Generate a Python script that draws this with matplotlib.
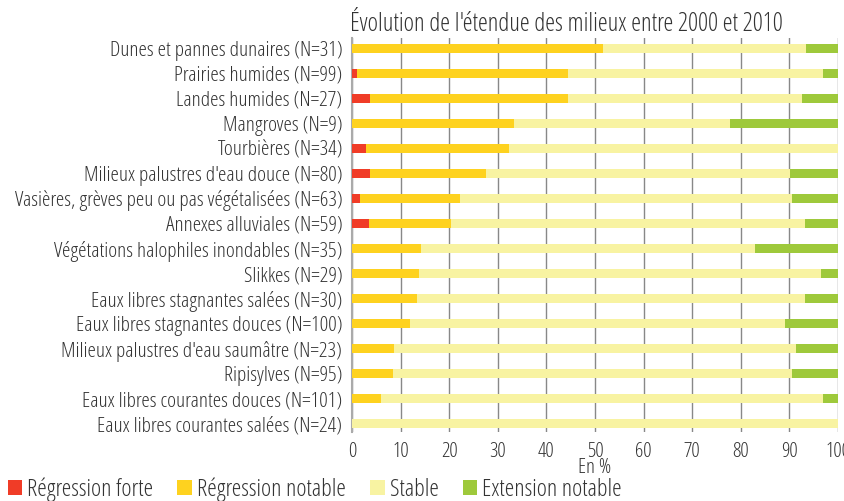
"""
Evolution de l'etendue des milieux entre 2000 et 2010 (barres empilees en %).
"""
import matplotlib
matplotlib.use("Agg")
import matplotlib.pyplot as plt
from matplotlib.patches import Patch
import numpy as np

plt.rcParams['font.family'] = ['Open Sans', 'DejaVu Sans']
plt.rcParams['font.stretch'] = 'condensed'

# Milieux, du haut vers le bas
categories = [
    "Dunes et pannes dunaires (N=31)",
    "Prairies humides (N=99)",
    "Landes humides (N=27)",
    "Mangroves (N=9)",
    "Tourbières (N=34)",
    "Milieux palustres d'eau douce (N=80)",
    "Vasières, grèves peu ou pas végétalisées (N=63)",
    "Annexes alluviales (N=59)",
    "Végétations halophiles inondables (N=35)",
    "Slikkes (N=29)",
    "Eaux libres stagnantes salées (N=30)",
    "Eaux libres stagnantes douces (N=100)",
    "Milieux palustres d'eau saumâtre (N=23)",
    "Ripisylves (N=95)",
    "Eaux libres courantes douces (N=101)",
    "Eaux libres courantes salées (N=24)",
]

# parts en %
regression_forte = [0, 1.0, 3.7, 0, 2.9, 3.8, 1.6, 3.4, 0, 0, 0, 0, 0, 0, 0, 0]
regression_notable = [51.6, 43.4, 40.7, 33.3, 29.4, 23.8, 20.6, 16.9, 14.3, 13.8, 13.3, 12.0, 8.7, 8.4, 5.9, 0]
stable = [41.9, 52.5, 48.1, 44.4, 67.7, 62.5, 68.3, 72.9, 68.6, 82.8, 80.0, 77.0, 82.6, 82.1, 91.1, 100]
extension_notable = [6.5, 3.1, 7.5, 22.3, 0, 9.9, 9.5, 6.8, 17.1, 3.4, 6.7, 11.0, 8.7, 9.5, 3.0, 0]

series_labels = ["Régression forte", "Régression notable", "Stable", "Extension notable"]
colors = ["#f03c27", "#fed21f", "#f8f3a2", "#9ec93b"]
text_color = "#333333"

fig = plt.figure(figsize=(8.44, 5.01), dpi=100)
ax = fig.add_axes([352 / 844, 1 - 432 / 501, 486 / 844, 394 / 501])

y = np.arange(len(categories))[::-1]
left = np.zeros(len(categories))
for values, color in zip([regression_forte, regression_notable, stable, extension_notable], colors):
    values = np.array(values)
    ax.barh(y, values, left=left, height=0.36, color=color, zorder=3)
    left += values

ax.set_xlim(0, 100)
ax.set_ylim(-0.32, len(categories) - 1 + 0.4)
ax.set_xticks(np.arange(0, 101, 10))
ax.set_yticks(y)
ax.set_yticklabels(categories, fontsize=15.4, color=text_color)
ax.tick_params(axis="y", length=0, pad=7)
ax.tick_params(axis="x", length=0, labelsize=15, colors=text_color, pad=7)
ax.grid(axis="x", color="#888888", linewidth=1, zorder=0)
for side in ["top", "right", "bottom"]:
    ax.spines[side].set_visible(False)
ax.spines["left"].set_color("#aaaaaa")
ax.spines["left"].set_linewidth(1.5)
ax.set_xlabel("En %", fontsize=15, color=text_color, labelpad=-3)
ax.set_title("Évolution de l'étendue des milieux entre 2000 et 2010", loc="left",
             fontsize=18, color=text_color, pad=5, x=-0.005)

handles = [Patch(facecolor=c, edgecolor="none") for c in colors]
fig.legend(handles, series_labels, loc="center left", bbox_to_anchor=(0.009, 1 - 490 / 501), ncol=4,
           frameon=False, fontsize=17.5, handlelength=0.6, handleheight=0.6,
           handletextpad=0.2, columnspacing=1.0, borderpad=0, borderaxespad=0,
           labelcolor=text_color)

fig.savefig("out.png", dpi=100)
